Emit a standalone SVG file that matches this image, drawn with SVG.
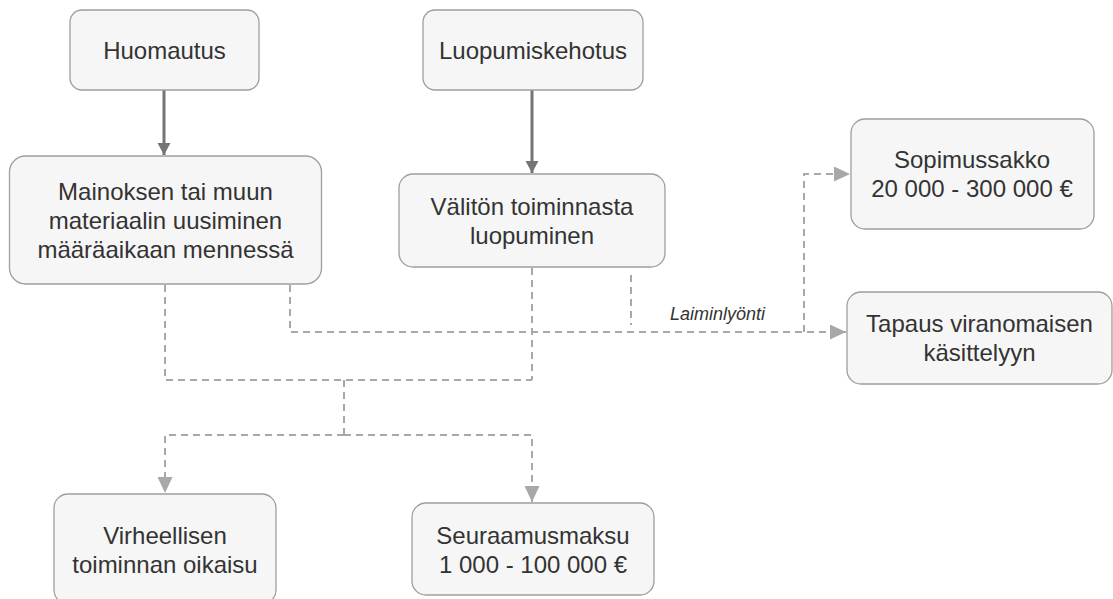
<svg xmlns="http://www.w3.org/2000/svg" width="1113" height="599" viewBox="0 0 1113 599">
<defs>
<style>
.box{fill:#f6f6f6;stroke:#9e9e9e;stroke-width:1.3}
.t{font-family:"Liberation Sans",Arial,sans-serif;font-size:24px;fill:#333;text-anchor:middle}
.solid{fill:none;stroke:#757575;stroke-width:3}
.dash{fill:none;stroke:#a8a8a8;stroke-width:2;stroke-dasharray:7 5}
.lbl{font-family:"Liberation Sans",Arial,sans-serif;font-size:18px;font-style:italic;fill:#333}
</style>
<marker id="as" markerUnits="userSpaceOnUse" markerWidth="14" markerHeight="14" refX="12" refY="6.5" orient="auto"><path d="M0,0 L12,6.5 L0,13 Z" fill="#757575"/></marker>
<marker id="ad" markerUnits="userSpaceOnUse" markerWidth="18" markerHeight="18" refX="16" refY="7.5" orient="auto"><path d="M0,0 L16,7.5 L0,15 Z" fill="#a8a8a8"/></marker>
</defs>
<rect width="1113" height="599" fill="#fff"/>
<g id="connectors">
<path class="solid" d="M164,90 V155" marker-end="url(#as)"/>
<path class="solid" d="M532,90 V173" marker-end="url(#as)"/>
<path class="dash" d="M290,285 V332 H846" marker-end="url(#ad)"/>
<path class="dash" d="M804,332 V174 H850" marker-end="url(#ad)"/>
<path class="dash" d="M631,275 V325"/>
<path class="dash" d="M165,285 V380 H532"/>
<path class="dash" d="M532,268 V380"/>
<path class="dash" d="M344,380 V435"/>
<path class="dash" d="M344,435 H165 V493" marker-end="url(#ad)"/>
<path class="dash" d="M344,435 H532 V502" marker-end="url(#ad)"/>
<text class="lbl" x="670" y="320">Laiminlyönti</text>
</g>
<g id="huomautus"><rect class="box" x="70" y="10" width="189" height="80" rx="12"/><text class="t" x="164.5" y="59">Huomautus</text></g>
<g id="luopumiskehotus"><rect class="box" x="423" y="10" width="220" height="80" rx="12"/><text class="t" x="533" y="59">Luopumiskehotus</text></g>
<g id="mainoksen"><rect class="box" x="9.5" y="156" width="312" height="128" rx="16"/><text class="t" x="165.5" y="200">Mainoksen tai muun</text><text class="t" x="165.5" y="229">materiaalin uusiminen</text><text class="t" x="165.5" y="258">määräaikaan mennessä</text></g>
<g id="valiton"><rect class="box" x="399" y="174" width="266" height="93" rx="14"/><text class="t" x="532" y="215">Välitön toiminnasta</text><text class="t" x="532" y="244">luopuminen</text></g>
<g id="sopimussakko"><rect class="box" x="851" y="119" width="243" height="110" rx="14"/><text class="t" x="972" y="168">Sopimussakko</text><text class="t" x="972" y="197">20 000 - 300 000 €</text></g>
<g id="tapaus"><rect class="box" x="847" y="292" width="265" height="92" rx="14"/><text class="t" x="979.5" y="332">Tapaus viranomaisen</text><text class="t" x="979.5" y="361">käsittelyyn</text></g>
<g id="virheellisen"><rect class="box" x="54" y="494" width="222" height="110" rx="14"/><text class="t" x="165" y="544">Virheellisen</text><text class="t" x="165" y="573">toiminnan oikaisu</text></g>
<g id="seuraamusmaksu"><rect class="box" x="412" y="503" width="242" height="92" rx="14"/><text class="t" x="533" y="544">Seuraamusmaksu</text><text class="t" x="533" y="573">1 000 - 100 000 €</text></g>
</svg>
